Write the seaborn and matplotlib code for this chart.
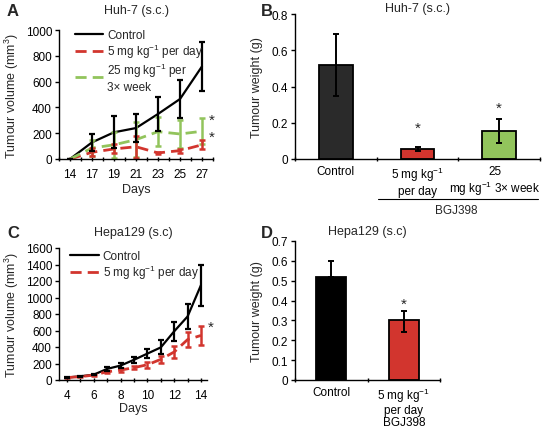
import numpy as np
import pandas as pd
import matplotlib
matplotlib.use("Agg")
import matplotlib.pyplot as plt
import matplotlib.transforms as mtransforms
import seaborn as sns
from matplotlib.lines import Line2D
from matplotlib.ticker import MultipleLocator, FixedLocator

# ---------------- data ----------------
# Panel A: Huh-7 tumour volume
a_days = ["14", "17", "19", "21", "23", "25", "27"]
a_control = [0, 129, 207, 240, 349, 465, 718]
a_control_err = [0, 65, 125, 110, 135, 150, 190]
a_5mg = [0, 52, 78, 95, 47, 65, 110]
a_5mg_err = [0, 30, 35, 85, 10, 15, 35]
a_25mg = [0, 85, 110, 150, 212, 194, 215]
a_25mg_err = [0, 60, 100, 135, 110, 110, 100]

# Panel B: Huh-7 tumour weight
b_groups = ["Control", "5 mg kg$^{-1}$\nper day", "25\nmg kg$^{-1}$ 3\u00d7 week"]
b_weight = [0.52, 0.055, 0.155]
b_err = [0.17, 0.01, 0.065]

# Panel C: Hepa129 tumour volume
c_days = [4, 5, 6, 7, 8, 9, 10, 11, 12, 13, 14]
c_control = [30, 45, 65, 135, 175, 245, 320, 395, 590, 770, 1150]
c_control_err = [5, 5, 10, 27, 28, 38, 50, 85, 115, 150, 250]
c_5mg = [30, 40, 60, 100, 120, 150, 185, 250, 340, 490, 540]
c_5mg_err = [5, 5, 10, 15, 20, 20, 35, 45, 70, 95, 115]

# Panel D: Hepa129 tumour weight
d_groups = ["Control", "5 mg kg$^{-1}$\nper day\nBGJ398"]
d_weight = [0.52, 0.30]
d_err_low = [0.0, 0.06]
d_err_high = [0.08, 0.05]

# ---------------- style ----------------
sns.set_style("ticks")
plt.rcParams["font.family"] = ["Liberation Sans", "DejaVu Sans"]
plt.rcParams["mathtext.fontset"] = "custom"
plt.rcParams["mathtext.rm"] = "Liberation Sans"
plt.rcParams["mathtext.it"] = "Liberation Sans:italic"
plt.rcParams["mathtext.bf"] = "Liberation Sans:bold"
FS = 8.5
TFS = 9
SFS = 11
plt.rcParams["font.size"] = FS
plt.rcParams["axes.edgecolor"] = "black"
plt.rcParams["axes.linewidth"] = 1.0
plt.rcParams["xtick.color"] = "black"
plt.rcParams["ytick.color"] = "black"

BLACK = "#000000"
DARK = "#2a2a2a"
RED = "#d2352e"
GREEN = "#92c45c"

W, H = 542, 431
fig = plt.figure(figsize=(W / 100, H / 100), dpi=100)


def rect(l, t, r, b):
    return [l / W, 1 - b / H, (r - l) / W, (b - t) / H]


def style_axes(ax):
    sns.despine(ax=ax)
    ax.tick_params(axis="both", labelsize=FS, length=3, width=1, pad=2, color="black")
    ax.tick_params(axis="x", which="minor", length=3, width=1, direction="inout")
    ax.tick_params(axis="x", which="major", direction="inout", pad=5)


# ---------------- Panel A ----------------
axA = fig.add_axes(rect(59, 31, 213, 160))
pos = list(range(len(a_days)))
dfA = pd.DataFrame({
    "pos": pos * 3,
    "vol": a_control + a_5mg + a_25mg,
    "grp": ["Control"] * 7 + ["5mg"] * 7 + ["25mg"] * 7,
})
sns.lineplot(data=dfA, x="pos", y="vol", hue="grp", style="grp",
             hue_order=["Control", "5mg", "25mg"],
             palette={"Control": BLACK, "5mg": RED, "25mg": GREEN},
             dashes={"Control": "", "5mg": (4, 2.2), "25mg": (4, 2.2)},
             legend=False, ax=axA)
lines = axA.get_lines()
lines[0].set_linewidth(1.6)
lines[1].set_linewidth(2.0)
lines[2].set_linewidth(2.0)
axA.errorbar(pos, a_25mg, yerr=a_25mg_err, fmt="none", ecolor=GREEN, elinewidth=1.8, capsize=2, capthick=1.8)
axA.errorbar(pos, a_5mg, yerr=a_5mg_err, fmt="none", ecolor=RED, elinewidth=1.8, capsize=2, capthick=1.8)
axA.errorbar(pos, a_control, yerr=a_control_err, fmt="none", ecolor=BLACK, elinewidth=1.6, capsize=2, capthick=1.6)
axA.set_xlim(-0.5, 6.5)
axA.set_ylim(0, 1000)
axA.yaxis.set_major_locator(MultipleLocator(200))
axA.set_xticks(pos)
axA.set_xticklabels(a_days)
axA.xaxis.set_minor_locator(FixedLocator(np.arange(-0.5, 6.6, 1.0)))
axA.set_xlabel("Days", fontsize=TFS, labelpad=2)
axA.set_ylabel("Tumour volume (mm$^3$)", fontsize=TFS, labelpad=3)
axA.set_title("Huh-7 (s.c.)", fontsize=TFS, pad=12)
style_axes(axA)
axA.legend(handles=[lines[0], lines[1], lines[2]],
           labels=["Control", "5 mg kg$^{-1}$ per day", "25 mg kg$^{-1}$ per\n3\u00d7 week"],
           loc="upper left", bbox_to_anchor=(0.05, 1.07), frameon=False, fontsize=FS,
           handlelength=2.4, handletextpad=0.35, labelspacing=0.05, borderpad=0.2)
axA.text(6.33, 305, "*", fontsize=SFS, ha="left", va="center", clip_on=False)
axA.text(6.33, 175, "*", fontsize=SFS, ha="left", va="center", clip_on=False)

# ---------------- Panel B ----------------
axB = fig.add_axes(rect(295, 15, 540, 160))
dfB = pd.DataFrame({"grp": b_groups, "w": b_weight})
sns.barplot(data=dfB, x="grp", y="w", hue="grp", palette=[DARK, RED, GREEN],
            saturation=1, width=0.41, edgecolor="black", linewidth=1.3,
            legend=False, ax=axB)
axB.errorbar(range(3), b_weight, yerr=b_err, fmt="none", ecolor="black",
             elinewidth=1.4, capsize=2, capthick=1.4)
axB.set_xlim(-0.5, 2.5)
axB.set_ylim(0, 0.8)
axB.yaxis.set_major_locator(MultipleLocator(0.2))
axB.yaxis.set_major_formatter(matplotlib.ticker.FuncFormatter(lambda v, p: "0" if v == 0 else f"{v:.1f}"))
axB.set_xlabel("")
axB.set_ylabel("Tumour weight (g)", fontsize=TFS, labelpad=6)
axB.set_title("Huh-7 (s.c.)", fontsize=TFS, pad=1)
style_axes(axB)
axB.tick_params(axis="x", which="major", length=0, pad=4)
axB.xaxis.set_minor_locator(FixedLocator([-0.5, 0.5, 1.5, 2.5]))
# nudge last label slightly left so it stays inside the figure
shift = mtransforms.ScaledTranslation(-3 / 72, 0, fig.dpi_scale_trans)
lbl = axB.get_xticklabels()[2]
lbl.set_transform(lbl.get_transform() + shift)
axB.text(1, 0.17, "*", fontsize=SFS, ha="center", va="center")
axB.text(2, 0.285, "*", fontsize=SFS, ha="center", va="center")
axB.add_line(Line2D([0.339, 0.99], [-0.276, -0.276], transform=axB.transAxes,
                    color="black", lw=0.8, clip_on=False))
axB.text(0.66, -0.31, "BGJ398", transform=axB.transAxes, fontsize=FS,
         ha="center", va="top")

# ---------------- Panel C ----------------
axC = fig.add_axes(rect(59, 249, 207, 381))
dfC = pd.DataFrame({
    "day": c_days * 2,
    "vol": c_control + c_5mg,
    "grp": ["Control"] * len(c_days) + ["5mg"] * len(c_days),
})
sns.lineplot(data=dfC, x="day", y="vol", hue="grp", style="grp",
             hue_order=["Control", "5mg"],
             palette={"Control": BLACK, "5mg": RED},
             dashes={"Control": "", "5mg": (4, 2.2)},
             legend=False, ax=axC)
linesC = axC.get_lines()
linesC[0].set_linewidth(1.6)
linesC[1].set_linewidth(2.0)
axC.errorbar(c_days, c_5mg, yerr=c_5mg_err, fmt="none", ecolor=RED, elinewidth=1.8, capsize=2, capthick=1.8)
axC.errorbar(c_days, c_control, yerr=c_control_err, fmt="none", ecolor=BLACK, elinewidth=1.6, capsize=2, capthick=1.6)
axC.set_xlim(3.4, 14.45)
axC.set_ylim(0, 1600)
axC.yaxis.set_major_locator(MultipleLocator(200))
axC.xaxis.set_major_locator(MultipleLocator(2))
axC.xaxis.set_minor_locator(MultipleLocator(1))
axC.set_xlabel("Days", fontsize=TFS, labelpad=1)
axC.set_ylabel("Tumour volume (mm$^3$)", fontsize=TFS, labelpad=3)
axC.set_title("Hepa129 (s.c)", fontsize=TFS, pad=9)
style_axes(axC)
axC.legend(handles=[linesC[0], linesC[1]],
           labels=["Control", "5 mg kg$^{-1}$ per day"],
           loc="upper left", bbox_to_anchor=(0.02, 1.05), frameon=False, fontsize=FS,
           handlelength=2.4, handletextpad=0.35, labelspacing=0.1, borderpad=0.2)
axC.text(14.5, 640, "*", fontsize=SFS, ha="left", va="center", clip_on=False)

# ---------------- Panel D ----------------
axD = fig.add_axes(rect(295, 242, 440, 381))
dfD = pd.DataFrame({"grp": d_groups, "w": d_weight})
sns.barplot(data=dfD, x="grp", y="w", hue="grp", palette=[BLACK, RED],
            saturation=1, width=0.41, edgecolor="black", linewidth=1.3,
            legend=False, ax=axD)
axD.errorbar(range(2), d_weight, yerr=[d_err_low, d_err_high], fmt="none", ecolor="black",
             elinewidth=1.4, capsize=2, capthick=1.4)
axD.set_xlim(-0.5, 1.5)
axD.set_ylim(0, 0.7)
axD.yaxis.set_major_locator(MultipleLocator(0.1))
axD.yaxis.set_major_formatter(matplotlib.ticker.FuncFormatter(lambda v, p: "0" if abs(v) < 1e-9 else f"{v:.1f}"))
axD.set_xlabel("")
axD.set_ylabel("Tumour weight (g)", fontsize=TFS, labelpad=6)
axD.set_title("Hepa129 (s.c)", fontsize=TFS, pad=5)
style_axes(axD)
axD.tick_params(axis="x", which="major", length=0, pad=4)
axD.xaxis.set_minor_locator(FixedLocator([-0.5, 0.5, 1.5]))
for t in axD.get_xticklabels():
    t.set_linespacing(1.0)
axD.text(1, 0.385, "*", fontsize=SFS, ha="center", va="center")

# ---------------- Panel letters ----------------
for letter, x, y in [("A", 7, 11), ("B", 261, 11), ("C", 7, 233), ("D", 261, 233)]:
    fig.text(x / W, 1 - y / H, letter, fontsize=12, fontweight="bold", ha="left", va="center")

fig.savefig("out.png", dpi=100)
